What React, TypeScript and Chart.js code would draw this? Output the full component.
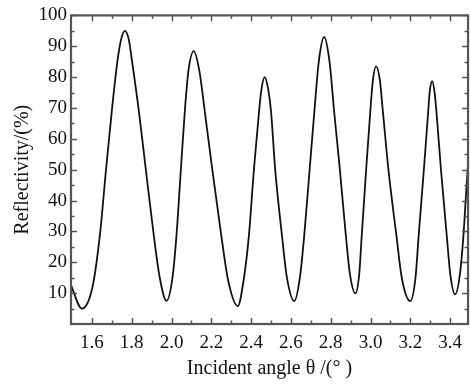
import React, { useEffect, useRef } from "react";
import { Chart, registerables } from "chart.js";

Chart.register(...registerables);

const ANGLE = [
  1.495, 1.55, 1.603, 1.64, 1.671, 1.7, 1.728, 1.746, 1.766, 1.786, 1.802, 1.836, 1.871, 1.911, 1.941, 1.975,
  2.005, 2.025, 2.047, 2.067, 2.085, 2.112, 2.14, 2.167, 2.205, 2.25, 2.285, 2.333,
  2.362, 2.389, 2.414, 2.44, 2.452, 2.468, 2.486, 2.5, 2.521, 2.555, 2.58, 2.617,
  2.645, 2.667, 2.694, 2.718, 2.74, 2.767, 2.794, 2.817, 2.846, 2.876, 2.897, 2.924,
  2.943, 2.956, 2.978, 2.999, 3.012, 3.028, 3.047, 3.062, 3.09, 3.13, 3.157, 3.2,
  3.226, 3.242, 3.268, 3.29, 3.297, 3.31, 3.322, 3.331, 3.354, 3.383, 3.401, 3.425,
  3.449, 3.467, 3.478, 3.5,
];
const REFLECTIVITY = [
  12.5, 5.0, 12, 28.7, 50, 69, 85, 92, 95, 92, 85, 69, 50, 28.7, 15, 7.5,
  15, 28.7, 50, 69, 82, 88.4, 82, 69, 50, 28.7, 14, 5.8,
  14, 28.7, 50, 69, 76, 80, 76, 69, 50, 28.7, 15, 7.4,
  15, 28.7, 50, 69, 85, 93, 85, 69, 50, 28.7, 16, 9.9,
  16, 28.7, 50, 69, 79, 83.5, 79, 69, 50, 28.7, 15, 7.4,
  15, 28.7, 50, 69, 75, 78.7, 75, 69, 50, 28.7, 16, 9.6,
  16, 28.7, 40, 62,
];

const X_TICKS = [1.6, 1.8, 2.0, 2.2, 2.4, 2.6, 2.8, 3.0, 3.2, 3.4];
const X_MINOR = [1.7, 1.9, 2.1, 2.3, 2.5, 2.7, 2.9, 3.1, 3.3];
const Y_TICKS = [10, 20, 30, 40, 50, 60, 70, 80, 90, 100];
const Y_MINOR = [5, 15, 25, 35, 45, 55, 65, 75, 85, 95];

const X_TITLE = "Incident angle θ /(° )";
const Y_TITLE = "Reflectivity/(%)";

const SERIF = "'Liberation Serif', 'Times New Roman', serif";

const framePlugin = {
  id: "frameTicks",
  afterDatasetsDraw(chart: any) {
    const { ctx, chartArea, scales } = chart;
    const { left, right, top, bottom } = chartArea;
    const x = scales.x;
    const y = scales.y;
    ctx.save();
    ctx.strokeStyle = "#555";
    ctx.lineWidth = 1.5;
    const tick = (x1: number, y1: number, x2: number, y2: number) => {
      ctx.beginPath();
      ctx.moveTo(x1, y1);
      ctx.lineTo(x2, y2);
      ctx.stroke();
    };
    const major = 6;
    const minor = 3.5;
    X_TICKS.forEach((v) => {
      const p = Math.round(x.getPixelForValue(v)) + 0.5;
      tick(p, bottom, p, bottom - major);
      tick(p, top, p, top + major);
    });
    X_MINOR.forEach((v) => {
      const p = Math.round(x.getPixelForValue(v)) + 0.5;
      tick(p, bottom, p, bottom - minor);
      tick(p, top, p, top + minor);
    });
    Y_TICKS.forEach((v) => {
      const p = Math.round(y.getPixelForValue(v)) + 0.5;
      tick(left, p, left + major, p);
      tick(right, p, right - major, p);
    });
    Y_MINOR.forEach((v) => {
      const p = Math.round(y.getPixelForValue(v)) + 0.5;
      tick(left, p, left + minor, p);
      tick(right, p, right - minor, p);
    });
    ctx.lineWidth = 2.2;
    ctx.strokeRect(left, top, right - left, bottom - top);
    ctx.restore();
  },
};

export default function App() {
  const ref = useRef<HTMLCanvasElement | null>(null);

  useEffect(() => {
    if (!ref.current) return;
    const data = ANGLE.map((a, i) => ({ x: a, y: REFLECTIVITY[i] }));
    const chart = new Chart(ref.current, {
      type: "line",
      data: {
        datasets: [
          {
            data,
            borderColor: "#111",
            borderWidth: 1.8,
            pointRadius: 0,
            cubicInterpolationMode: "monotone",
            fill: false,
          },
        ],
      },
      options: {
        animation: false,
        responsive: true,
        maintainAspectRatio: false,
        layout: { padding: { top: 14, right: 0, left: 0, bottom: 0 } },
        plugins: {
          legend: { display: false },
          tooltip: { enabled: false },
        },
        scales: {
          x: {
            type: "linear",
            min: 1.495,
            max: 3.49,
            grid: { display: false, drawTicks: false },
            border: { display: false },
            afterBuildTicks: (s: any) => {
              s.ticks = X_TICKS.map((v) => ({ value: v }));
            },
            afterFit: (s: any) => {
              s.height = 62;
            },
            ticks: {
              padding: 8,
              color: "#111",
              font: { family: SERIF, size: 19 },
              maxRotation: 0,
              autoSkip: false,
              callback: (v: any) => Number(v).toFixed(1),
            },
            title: {
              display: true,
              text: X_TITLE,
              color: "#111",
              font: { family: SERIF, size: 20 },
              padding: { top: 0, bottom: 5 },
            },
          },
          y: {
            type: "linear",
            min: 0,
            max: 100,
            grid: { display: false, drawTicks: false },
            border: { display: false },
            afterBuildTicks: (s: any) => {
              s.ticks = Y_TICKS.map((v) => ({ value: v }));
            },
            afterFit: (s: any) => {
              s.width = 71;
            },
            ticks: {
              padding: 4,
              color: "#111",
              font: { family: SERIF, size: 19 },
              autoSkip: false,
            },
            title: {
              display: true,
              text: Y_TITLE,
              color: "#111",
              font: { family: SERIF, size: 20 },
              padding: { top: 11, bottom: 0 },
            },
          },
        },
      },
      plugins: [framePlugin],
    });
    return () => chart.destroy();
  }, []);

  return (
    <div
      style={{
        position: "fixed",
        left: 0,
        top: 0,
        width: 470,
        height: 386,
        background: "#fff",
      }}
    >
      <canvas ref={ref} />
    </div>
  );
}
